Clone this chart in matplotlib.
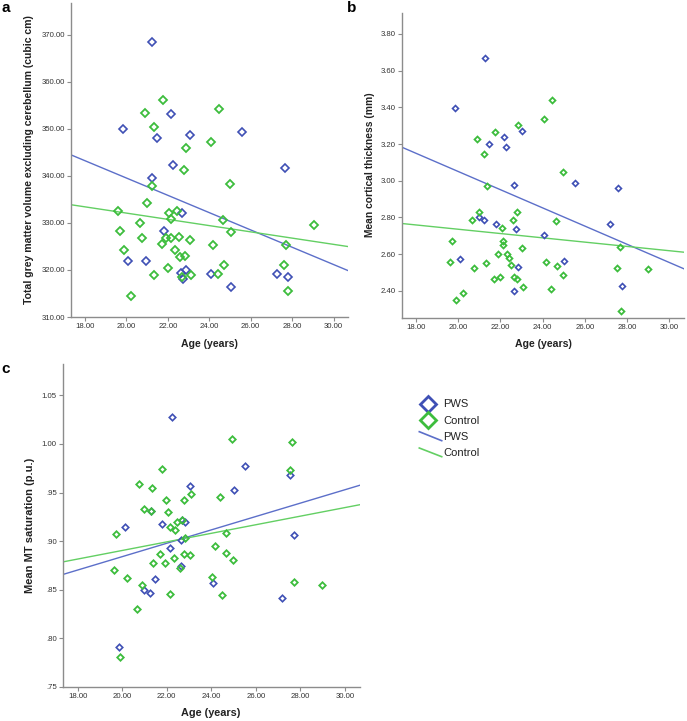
import numpy as np
import matplotlib
matplotlib.use("Agg")
import matplotlib.pyplot as plt
from matplotlib.lines import Line2D
from matplotlib.ticker import FuncFormatter, FixedLocator

plt.rcParams['font.family'] = ['Liberation Sans', 'DejaVu Sans']

# ---------------- data ----------------
# Panel a: total grey matter volume excluding cerebellum (cubic cm)
a_pws_age = [21.25, 19.84, 22.17, 21.49, 23.06, 25.58, 22.25, 27.65, 21.22, 20.08,
             20.96, 21.80, 22.70, 22.64, 22.86, 22.75, 24.10, 25.04, 27.28, 27.82]
a_pws_val = [368.6, 350.1, 353.2, 348.1, 348.8, 349.3, 342.3, 341.6, 339.6, 321.9,
             321.85, 328.3, 332.1, 319.4, 320.0, 318.0, 319.1, 316.4, 319.1, 318.5]
a_ctl_age = [21.77, 20.88, 21.33, 24.49, 22.86, 24.07, 22.80, 25.00, 21.25, 20.98,
             19.58, 20.66, 19.71, 20.75, 19.90, 20.22, 21.32, 22.00, 21.70, 21.90,
             22.07, 22.15, 22.17, 22.43, 22.35, 22.54, 22.60, 22.82, 22.70, 23.07,
             23.10, 24.18, 24.44, 24.73, 24.68, 25.04, 27.72, 27.63, 27.82, 29.08]
a_ctl_val = [356.2, 353.3, 350.5, 354.3, 346.0, 347.2, 341.3, 338.3, 337.9, 334.3,
             332.5, 330.1, 328.3, 326.8, 324.3, 314.5, 318.9, 320.4, 325.6, 326.9,
             332.1, 330.9, 326.8, 332.6, 324.3, 327.1, 322.7, 323.0, 318.6, 326.3,
             318.9, 325.4, 319.1, 321.0, 330.6, 328.0, 325.4, 321.1, 315.6, 329.6]

# Panel b: mean cortical thickness (mm)
b_pws_age = [21.26, 19.85, 21.47, 22.16, 22.25, 23.04, 22.66, 25.52, 27.56, 20.97,
             21.21, 21.78, 22.74, 24.07, 27.21, 20.10, 22.83, 25.00, 22.63, 27.75]
b_pws_val = [3.668, 3.397, 3.199, 3.236, 3.183, 3.270, 2.974, 2.987, 2.958, 2.803,
             2.787, 2.765, 2.736, 2.705, 2.763, 2.574, 2.529, 2.562, 2.398, 2.426]
b_ctl_age = [20.88, 21.76, 21.24, 22.83, 24.05, 24.46, 24.95, 21.35, 20.97, 20.65,
             22.06, 22.79, 22.58, 24.65, 19.72, 22.12, 22.12, 19.60, 20.75, 21.32,
             21.90, 22.33, 22.39, 22.50, 23.02, 24.15, 24.69, 24.98, 21.68, 22.00,
             22.66, 22.77, 23.05, 24.38, 19.90, 20.21, 27.64, 27.54, 27.73, 28.98]
b_ctl_val = [3.227, 3.263, 3.147, 3.301, 3.337, 3.441, 3.049, 2.972, 2.827, 2.787,
             2.743, 2.827, 2.787, 2.778, 2.671, 2.669, 2.651, 2.555, 2.525, 2.553,
             2.600, 2.602, 2.580, 2.542, 2.631, 2.555, 2.536, 2.487, 2.464, 2.476,
             2.473, 2.465, 2.422, 2.409, 2.349, 2.386, 2.637, 2.525, 2.288, 2.518]

# Panel c: mean MT saturation (p.u.)  (last two PWS points sit under Control markers)
c_pws_age = [22.24, 25.52, 27.55, 23.04, 25.00, 21.79, 20.11, 22.83, 22.66, 27.71,
             22.15, 22.65, 21.48, 24.07, 20.97, 21.24, 27.19, 19.87, 21.27, 22.68]
c_pws_val = [1.0279, 0.9777, 0.9677, 0.9566, 0.9529, 0.9173, 0.9143, 0.9198, 0.9016, 0.9064,
             0.8930, 0.8744, 0.8609, 0.8564, 0.8496, 0.8461, 0.8409, 0.7907, 0.9305, 0.9222]
c_ctl_age = [24.95, 27.64, 27.53, 21.78, 20.76, 21.33, 23.08, 22.77, 21.97, 24.38,
             20.97, 21.27, 22.05, 19.73, 22.13, 22.39, 22.48, 22.68, 22.83, 24.65,
             24.16, 24.68, 24.98, 21.70, 22.78, 23.02, 22.32, 21.36, 21.90, 22.59,
             19.61, 20.21, 24.04, 20.90, 22.14, 24.47, 20.66, 27.71, 28.97, 19.91]
c_ctl_val = [1.0056, 1.0025, 0.9736, 0.9742, 0.9591, 0.9542, 0.9480, 0.9425, 0.9422, 0.9449,
             0.9333, 0.9305, 0.9298, 0.9077, 0.9143, 0.9116, 0.9201, 0.9222, 0.9033, 0.9085,
             0.8950, 0.8878, 0.8806, 0.8868, 0.8864, 0.8853, 0.8826, 0.8771, 0.8775, 0.8726,
             0.8698, 0.8620, 0.8630, 0.8548, 0.8455, 0.8444, 0.8303, 0.8579, 0.8548, 0.7810]

x_ticks = [18, 20, 22, 24, 26, 28, 30]
a_yticks = [310, 320, 330, 340, 350, 360, 370]
b_yticks = [2.40, 2.60, 2.80, 3.00, 3.20, 3.40, 3.60, 3.80]
c_yticks = [0.75, 0.80, 0.85, 0.90, 0.95, 1.00, 1.05]
groups = ["PWS", "Control"]

# ---------------- style ----------------
W, H = 687, 721
BLUE_M = '#3f50b5'
GREEN_M = '#3dbd3d'
BLUE_L = '#5c6fc9'
GREEN_L = '#63cf63'
SPINE = '#8c8c8c'
XLIM = (17.33, 30.68)

fig = plt.figure(figsize=(W / 100, H / 100), dpi=100)


def px_axes(left, top, right, bottom):
    return fig.add_axes([left / W, 1 - bottom / H, (right - left) / W, (bottom - top) / H])


def fmt_c(v, pos):
    s = '%.2f' % v
    return s[1:] if s.startswith('0') else s


def style(ax, yticks, ylim, fmt):
    ax.set_xlim(*XLIM)
    ax.set_ylim(*ylim)
    for s in ['top', 'right']:
        ax.spines[s].set_visible(False)
    for s in ['left', 'bottom']:
        ax.spines[s].set_color(SPINE)
        ax.spines[s].set_linewidth(1.0)
    ax.xaxis.set_major_locator(FixedLocator(x_ticks))
    ax.yaxis.set_major_locator(FixedLocator(yticks))
    ax.xaxis.set_major_formatter(FuncFormatter(lambda v, p: '%.2f' % v))
    ax.yaxis.set_major_formatter(FuncFormatter(fmt))
    ax.tick_params(axis='both', direction='out', length=3, width=0.8, color=SPINE,
                   labelsize=5.6, labelcolor='#333333', pad=1.5)
    ax.set_facecolor('white')


def draw(ax, pa, pv, ca, cv, ms):
    ax.plot(pa, pv, linestyle='none', marker='D', markersize=ms, markerfacecolor='none',
            markeredgecolor=BLUE_M, markeredgewidth=1.2, clip_on=False, zorder=3)
    ax.plot(ca, cv, linestyle='none', marker='D', markersize=ms, markerfacecolor='none',
            markeredgecolor=GREEN_M, markeredgewidth=1.3, clip_on=False, zorder=4)
    xs = np.array(XLIM)
    for a, v, col in [(pa, pv, BLUE_L), (ca, cv, GREEN_L)]:
        k, b = np.polyfit(a, v, 1)
        ax.plot(xs, k * xs + b, color=col, linewidth=1.0, zorder=2)


# panel a
ax_a = px_axes(71.1, 3, 347.6, 317)
style(ax_a, a_yticks, (310, 376.8), lambda v, p: '%.2f' % v)
draw(ax_a, a_pws_age, a_pws_val, a_ctl_age, a_ctl_val, 3.6)

# panel b
ax_b = px_axes(401.9, 12.7, 683.7, 317.7)
style(ax_b, b_yticks, (2.2528, 3.916), lambda v, p: '%.2f' % v)
draw(ax_b, b_pws_age, b_pws_val, b_ctl_age, b_ctl_val, 3.0)

# panel c
ax_c = px_axes(62.8, 364, 360.1, 686.7)
style(ax_c, c_yticks, (0.75, 1.0824), fmt_c)
draw(ax_c, c_pws_age, c_pws_val, c_ctl_age, c_ctl_val, 3.3)

# axis labels
lab = dict(fontweight='bold', color='#222222', ha='center', va='center')
fig.text(29 / W, 1 - 160 / H, 'Total grey matter volume excluding cerebellum (cubic cm)',
         rotation=90, fontsize=7.6, **lab)
fig.text(209 / W, 1 - 344 / H, 'Age (years)', fontsize=7.6, **lab)
fig.text(370 / W, 1 - 165 / H, 'Mean cortical thickness (mm)', rotation=90, fontsize=7.4, **lab)
fig.text(543 / W, 1 - 344 / H, 'Age (years)', fontsize=7.6, **lab)
fig.text(30 / W, 1 - 525 / H, 'Mean MT saturation (p.u.)', rotation=90, fontsize=8.0, **lab)
fig.text(211 / W, 1 - 713 / H, 'Age (years)', fontsize=7.8, **lab)

# panel letters
pl = dict(fontsize=11, fontweight='bold', color='black', ha='left', va='center')
fig.text(1 / W, 1 - 8 / H, 'a', **pl)
fig.text(347 / W, 1 - 8 / H, 'b', **pl)
fig.text(1 / W, 1 - 369 / H, 'c', **pl)


# legend (drawn manually)
def fx(x):
    return x / W


def fy(y):
    return 1 - y / H


fig.add_artist(Line2D([fx(428)], [fy(404)], marker='D', markersize=8.0, markerfacecolor='none',
                      markeredgecolor=BLUE_M, markeredgewidth=2.0, transform=fig.transFigure))
fig.add_artist(Line2D([fx(428)], [fy(420)], marker='D', markersize=8.0, markerfacecolor='none',
                      markeredgecolor=GREEN_M, markeredgewidth=2.0, transform=fig.transFigure))
fig.add_artist(Line2D([fx(419.3), fx(441.7)], [fy(431.7), fy(440.7)], color=BLUE_L, linewidth=1.2,
                      transform=fig.transFigure))
fig.add_artist(Line2D([fx(419.3), fx(441.7)], [fy(448), fy(456.7)], color=GREEN_L, linewidth=1.2,
                      transform=fig.transFigure))
lg = dict(fontsize=8, color='#222222', ha='left', va='center')
fig.text(fx(443.5), fy(404), groups[0], **lg)
fig.text(fx(443.5), fy(421), groups[1], **lg)
fig.text(fx(443.5), fy(437), groups[0], **lg)
fig.text(fx(443.5), fy(453), groups[1], **lg)

fig.savefig('out.png', dpi=100, facecolor='white')
